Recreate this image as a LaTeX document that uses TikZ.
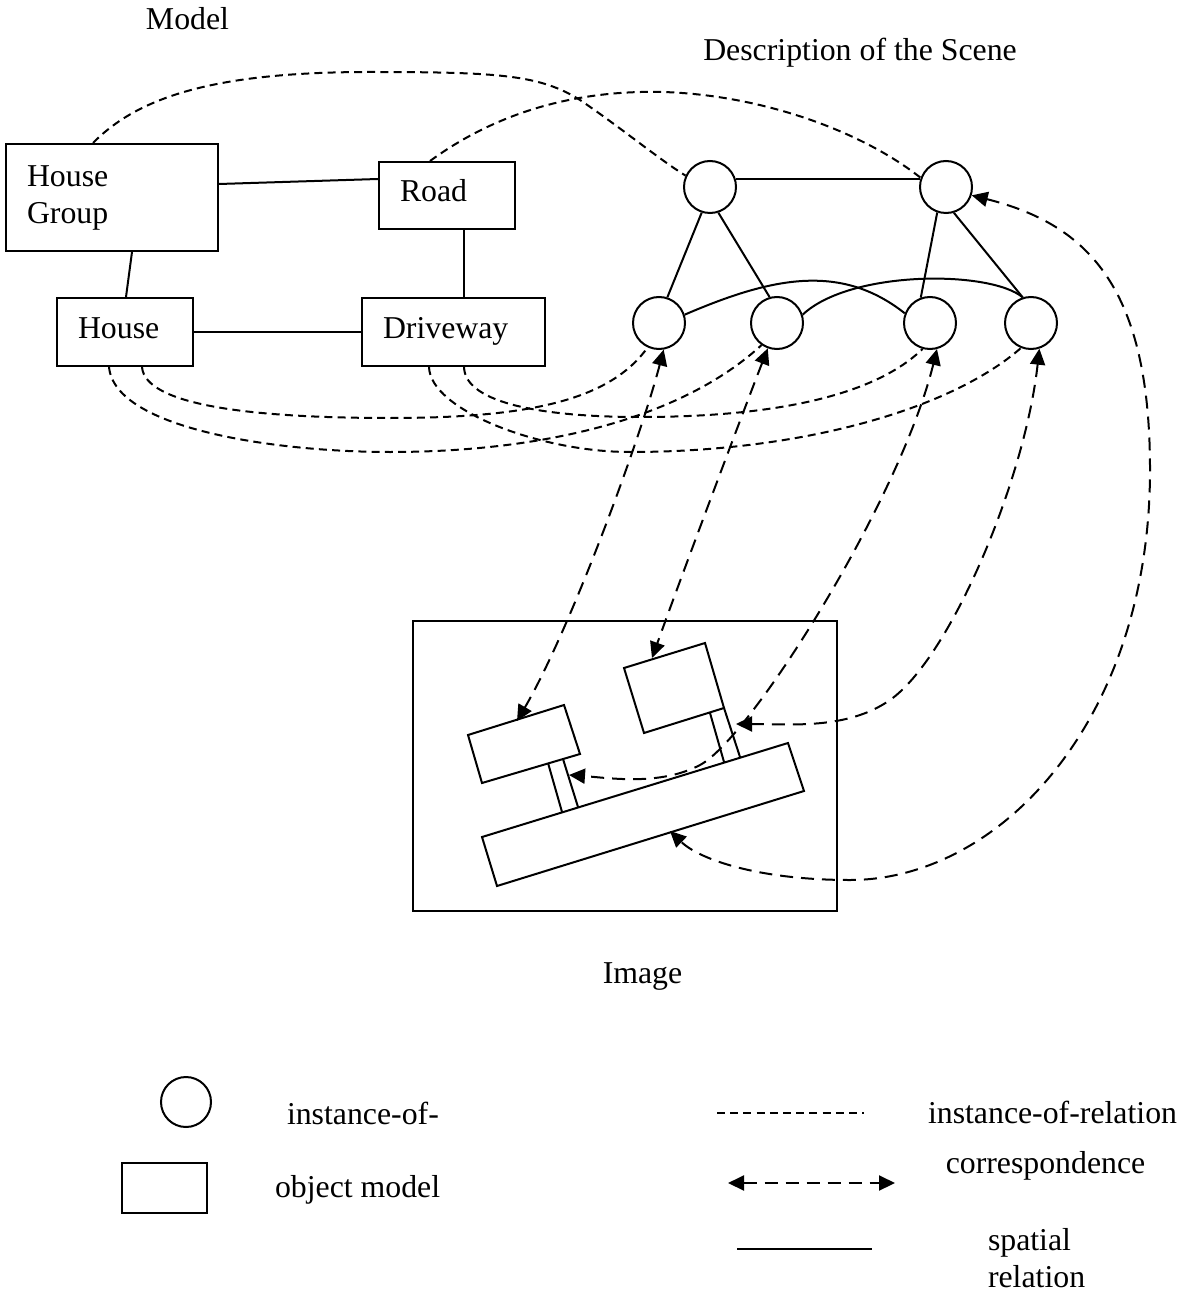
\documentclass[tikz,border=0pt]{standalone}
\usepackage{fontspec}
\setmainfont{Liberation Serif}
\usetikzlibrary{arrows.meta}
\begin{document}
\begin{tikzpicture}[x=0.5pt,y=-0.5pt,
  line width=1pt,
  every node/.style={font=\fontsize{15.9}{18.5}\selectfont},
  objbox/.style={draw, line width=1pt, inner xsep=10.5pt, inner ysep=0pt, align=left},
  oneline/.style={text height=11pt, text depth=4.5pt},
  inst/.style={draw, circle, minimum size=26pt, inner sep=0pt, line width=1pt},
  spatial/.style={line width=1pt},
  instrel/.style={line width=1pt, dash pattern=on 4pt off 2.6pt},
  corr/.style={line width=1pt, dash pattern=on 6.5pt off 4pt,
    {Triangle[length=8pt,width=7.5pt]}-{Triangle[length=8pt,width=7.5pt]}},
  label/.style={inner sep=0pt}
]
\useasboundingbox (0,0) rectangle (1189,1294);
\fill[white] (0,0) rectangle (1189,1294);

% headings
\node[label, anchor=base] (tmodel) at (187.5,30) {Model};
\node[label, anchor=base] (tdesc) at (860,61) {Description of the Scene};
\node[label, anchor=base] (timage) at (642.5,983) {Image};

% object models
\node[objbox, text width=85pt, minimum height=53.5pt] (hg) at (112,197.5) {House\\Group};
\node[objbox, oneline, text width=47pt, minimum height=33.5pt] (road) at (447,195.5) {Road};
\node[objbox, oneline, text width=47pt, minimum height=34pt] (house) at (125,332) {House};
\node[objbox, oneline, text width=70.5pt, minimum height=34pt] (dw) at (453.5,332) {Driveway};

\draw[spatial] ([yshift=6.75pt]hg.east) -- ([yshift=8.25pt]road.west);
\draw[spatial] ([xshift=10pt]hg.south) -- ([xshift=0.5pt]house.north);
\draw[spatial] (house.east) -- (dw.west);
\draw[spatial] ([xshift=8.5pt]road.south) -- ([xshift=5.25pt]dw.north);

% scene description
\node[inst] (a) at (710,187) {};
\node[inst] (b) at (946,187) {};
\node[inst] (c1) at (659,323) {};
\node[inst] (c2) at (777,323) {};
\node[inst] (c3) at (930,323) {};
\node[inst] (c4) at (1031,323) {};

\draw[spatial] (a.17) -- (b.163);
\draw[spatial] (a.-108) -- (c1.72);
\draw[spatial] (a.-72) -- (c2.106);
\draw[spatial] (b.-109) -- (c3.110);
\draw[spatial] (b.-73) -- (c4.108);
\draw[spatial] (c1.18) .. controls (770,278) and (840,262) .. (c3.159);
\draw[spatial] (c2.18) .. controls (850,270) and (990,270) .. (c4.108);

% instance-of relations
\draw[instrel] ([xshift=-9.5pt]hg.north) .. controls (140,95) and (220,72) .. (370,72)
  .. controls (500,72) and (540,75) .. (580,100)
  .. controls (620,127) and (660,160) .. (a.155);
\draw[instrel] ([xshift=-8.5pt]road.north) .. controls (500,110) and (580,90) .. (663,92)
  .. controls (760,95) and (860,130) .. (b.160);
\draw[instrel] ([xshift=8.5pt]house.south) .. controls (145,405) and (250,418) .. (390,418)
  .. controls (530,418) and (610,400) .. (c1.-115);
\draw[instrel] ([xshift=-8pt]house.south) .. controls (115,430) and (280,452) .. (390,452)
  .. controls (540,452) and (680,420) .. (c2.-125);
\draw[instrel] ([xshift=5.25pt]dw.south) .. controls (465,405) and (550,417) .. (640,417)
  .. controls (760,417) and (870,400) .. (c3.-106);
\draw[instrel] ([xshift=-12.25pt]dw.south) .. controls (430,410) and (540,452) .. (630,452)
  .. controls (800,452) and (950,410) .. (c4.-112);

% image
\draw[line width=1.2pt] (413,621) rectangle (837,911);
\draw (468,735) -- (564,705) -- (580,754) -- (482,783) -- cycle;
\draw (548,763) -- (562,812);
\draw (563,759) -- (578,807);
\draw (624,668) -- (705,643) -- (724,708) -- (644,733) -- cycle;
\draw (710,713) -- (724,762);
\draw (724,708) -- (740,757);
\draw (482,837) -- (788,743) -- (804,791) -- (497,886) -- cycle;

\coordinate (h1top) at (517,721);
\coordinate (h2top) at (652,658);
\coordinate (dw1) at (569,775);
\coordinate (dw2) at (736,724);
\coordinate (rd) at (670,831);

% correspondences
\draw[corr] (c1.-80) .. controls (640,440) and (570,630) .. (h1top);
\draw[corr] (c2.-110) .. controls (740,420) and (680,580) .. (h2top);
\draw[corr] (c3.-75) .. controls (900,500) and (750,739) .. (700,765)
  .. controls (660,786) and (610,778) .. (dw1);
\draw[corr] (c4.-72) .. controls (1025,480) and (950,658) .. (890,700)
  .. controls (847,730) and (790,724) .. (dw2);
\draw[corr] (b.-18) .. controls (1090,225) and (1150,290) .. (1150,470)
  .. controls (1150,720) and (1000,880) .. (850,880)
  .. controls (760,880) and (700,860) .. (rd);

% legend
\node[inst, minimum size=25pt] (lgc) at (186,1102) {};
\node[draw, line width=1pt, minimum width=42.5pt, minimum height=25pt, inner sep=0pt] (lgb) at (164.5,1188) {};
\node[label, anchor=base west] (lt1) at (286,1124) {instance-of-};
\node[label, anchor=base west] (lt2) at (274,1197) {object model};

\coordinate (l1a) at (717,1113);
\coordinate (l1b) at (864,1113);
\coordinate (l2a) at (728,1183);
\coordinate (l2b) at (895,1183);
\coordinate (l3a) at (737,1249);
\coordinate (l3b) at (872,1249);
\draw[instrel] (l1a) -- (l1b);
\draw[corr] (l2a) -- (l2b);
\draw[spatial] (l3a) -- (l3b);

\node[label, anchor=base east] (lt3) at (1178,1123) {instance-of-relation};
\node[label, anchor=base] (lt4) at (1045.5,1173) {correspondence};
\node[label, anchor=west, align=left] (lt5) at (987,1258) {spatial\\relation};
\end{tikzpicture}
\end{document}
